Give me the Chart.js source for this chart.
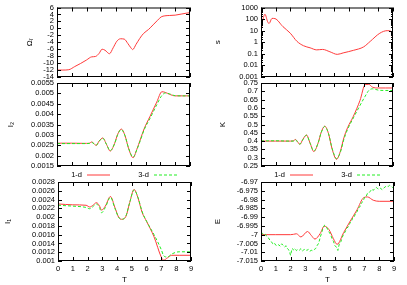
<!DOCTYPE html>
<html>
<head>
<meta charset="utf-8">
<script src="https://cdn.jsdelivr.net/npm/chart.js@4.4.1/dist/chart.umd.min.js"></script>
<style>
  html, body { margin: 0; padding: 0; background: #fff; }
  #wrap { position: relative; width: 407px; height: 285px; overflow: hidden; }
  canvas { position: absolute; }
</style>
</head>
<body>
<div id="wrap">
  <canvas id="c1" width="200" height="85"  style="left:0;top:0"></canvas>
  <canvas id="c2" width="207" height="85"  style="left:200px;top:0"></canvas>
  <canvas id="c3" width="200" height="104" style="left:0;top:72px"></canvas>
  <canvas id="c4" width="207" height="104" style="left:200px;top:72px"></canvas>
  <canvas id="c5" width="200" height="119" style="left:0;top:166px"></canvas>
  <canvas id="c6" width="207" height="119" style="left:200px;top:166px"></canvas>
</div>
<script>
// ---- data ----
const tTicks = [0, 1, 2, 3, 4, 5, 6, 7, 8, 9];

// Omega_r (1-d only)
const tOmega = [0, 0.4, 0.8, 1.2, 1.6, 2.0, 2.35, 2.6, 2.85, 3.05, 3.25, 3.55, 3.8, 4.05, 4.3, 4.55, 4.8, 5.0, 5.12, 5.35, 5.6, 5.85, 6.2, 6.5, 6.8, 7.05, 7.3, 7.6, 8.0, 8.4, 8.8, 9.0];
const omega1d = [-12, -12, -11.9, -11.0, -10.1, -9.1, -8.2, -8.1, -7.2, -6.0, -6.3, -7.3, -5.6, -3.7, -3.0, -3.1, -4.4, -5.6, -6.1, -4.6, -2.9, -1.5, -0.3, 1.0, 2.3, 3.3, 3.6, 3.7, 3.8, 4.1, 4.4, 4.5];
const omegaTicks = [-14, -12, -10, -8, -6, -4, -2, 0, 2, 4, 6];

// s (log scale, 1-d only)
const tS = [0, 0.04, 0.1, 0.27, 0.45, 0.55, 0.75, 0.95, 1.5, 2.0, 2.45, 2.9, 3.35, 3.8, 4.2, 4.7, 5.2, 5.6, 6.3, 7.0, 7.45, 8.1, 8.6, 8.85, 9.0];
const s1d = [800, 20, 60, 260, 60, 42, 115, 110, 22, 6, 1.2, 0.5, 0.33, 0.22, 0.24, 0.15, 0.09, 0.12, 0.2, 0.4, 1.2, 6, 10, 9, 1.7];
const sTicks = [0.001, 0.01, 0.1, 1, 10, 100, 1000];

// I_2 and K share one time grid
const tI = [0, 1, 2, 2.2, 2.35, 2.5, 2.65, 2.85, 3.1, 3.35, 3.6, 3.9, 4.1, 4.35, 4.6, 4.85, 5.15, 5.4, 5.65, 5.9, 6.3, 6.75, 7.1, 7.35, 7.6, 8.0, 8.5, 9];
const i2_1d = [0.0026, 0.0026, 0.00259, 0.0026, 0.00266, 0.00258, 0.00249, 0.0027, 0.00285, 0.00254, 0.00222, 0.00259, 0.00302, 0.00328, 0.00297, 0.00233, 0.0019, 0.0023, 0.0028, 0.0033, 0.0039, 0.00458, 0.00508, 0.00504, 0.00496, 0.00488, 0.00488, 0.00488];
const i2_3d = [0.00258, 0.00258, 0.00258, 0.00259, 0.00264, 0.00257, 0.0025, 0.00269, 0.00284, 0.00254, 0.00224, 0.00258, 0.003, 0.00326, 0.00296, 0.00235, 0.00193, 0.00228, 0.00275, 0.00325, 0.0038, 0.00445, 0.0049, 0.00502, 0.00498, 0.00489, 0.00488, 0.00488];
const i2Ticks = [0.0015, 0.002, 0.0025, 0.003, 0.0035, 0.004, 0.0045, 0.005, 0.0055];

const k1d = [0.4, 0.4, 0.4, 0.401, 0.41, 0.395, 0.38, 0.41, 0.437, 0.387, 0.337, 0.39, 0.452, 0.49, 0.446, 0.352, 0.29, 0.335, 0.42, 0.48, 0.55, 0.645, 0.74, 0.742, 0.725, 0.72, 0.72, 0.72];
const k3d = [0.401, 0.402, 0.4, 0.4, 0.408, 0.394, 0.382, 0.408, 0.435, 0.387, 0.34, 0.39, 0.45, 0.488, 0.446, 0.356, 0.295, 0.33, 0.41, 0.47, 0.54, 0.615, 0.67, 0.705, 0.715, 0.707, 0.705, 0.705];
const kTicks = [0.25, 0.3, 0.35, 0.4, 0.45, 0.5, 0.55, 0.6, 0.65, 0.7, 0.75];

// I_1
const tI1 = [0, 1, 1.9, 2.15, 2.4, 2.6, 2.8, 2.95, 3.2, 3.55, 3.85, 4.1, 4.3, 4.6, 4.85, 5.15, 5.4, 5.7, 6.0, 6.5, 7.0, 7.15, 7.4, 7.7, 8.2, 9];
const i1_1d = [0.0023, 0.00228, 0.00227, 0.00223, 0.00228, 0.00233, 0.00226, 0.00216, 0.00225, 0.00247, 0.00222, 0.002, 0.00195, 0.00202, 0.00233, 0.00263, 0.00245, 0.0021, 0.0019, 0.00155, 0.00108, 0.00102, 0.00107, 0.00113, 0.00113, 0.00113];
const i1_3d = [0.00227, 0.00225, 0.00222, 0.00219, 0.00225, 0.0023, 0.00222, 0.0021, 0.00222, 0.00245, 0.0022, 0.002, 0.00195, 0.00203, 0.00233, 0.00262, 0.00246, 0.00212, 0.0019, 0.0016, 0.00125, 0.00112, 0.00109, 0.00116, 0.00121, 0.00121];
const i1Ticks = [0.001, 0.0012, 0.0014, 0.0016, 0.0018, 0.002, 0.0022, 0.0024, 0.0026, 0.0028];

// E
const tE = [0, 1, 2, 2.2, 2.4, 2.7, 3.15, 3.4, 3.65, 4.0, 4.28, 4.6, 4.9, 5.15, 5.6, 6.0, 6.5, 6.95, 7.2, 7.6, 8.0, 9];
const e1d = [-7.0, -7.0, -7.0, -6.9998, -6.9995, -7.0013, -6.9982, -7.0004, -7.0025, -6.9994, -6.9952, -6.9971, -7.0023, -7.0055, -6.9987, -6.9928, -6.9858, -6.9789, -6.9785, -6.9804, -6.981, -6.981];
const tE3 = [0, 0.1, 0.2, 0.3, 0.4, 0.5, 0.6, 0.7, 0.8, 0.9, 1.0, 1.1, 1.2, 1.3, 1.4, 1.5, 1.6, 1.7, 1.8, 1.9, 2.0, 2.1, 2.2, 2.3, 2.4, 2.5, 2.6, 2.7, 2.8, 2.9, 3.0, 3.1, 3.2, 3.3, 3.4, 3.5, 3.6, 3.7, 3.8, 3.9, 4.0, 4.1, 4.2, 4.3, 4.4, 4.5, 4.6, 4.7, 4.8, 4.9, 5.0, 5.1, 5.2, 5.3, 5.4, 5.5, 5.6, 5.7, 5.8, 5.9, 6.0, 6.1, 6.2, 6.3, 6.4, 6.5, 6.6, 6.7, 6.8, 6.9, 7.0, 7.1, 7.2, 7.3, 7.4, 7.5, 7.6, 7.7, 7.8, 7.9, 8.0, 8.1, 8.2, 8.3, 8.4, 8.5, 8.6, 8.7, 8.8, 8.9, 9.0];
const e3d = [-6.9995, -6.9992, -7.0003, -6.9998, -7.0012, -7.0018, -7.0031, -7.004, -7.0052, -7.0047, -7.006, -7.0064, -7.0057, -7.0066, -7.0052, -7.0061, -7.007, -7.0063, -7.0081, -7.0089, -7.0118, -7.0079, -7.0086, -7.0078, -7.0091, -7.0083, -7.0088, -7.008, -7.0093, -7.0086, -7.0082, -7.009, -7.0084, -7.0095, -7.0089, -7.0092, -7.0085, -7.0079, -7.0062, -7.0049, -7.0018, -6.999, -6.9962, -6.9946, -6.9953, -6.9968, -6.9985, -6.9997, -7.0021, -7.0038, -7.0062, -7.0071, -7.009, -7.0052, -7.0041, -7.0015, -6.9995, -6.9984, -6.9962, -6.9957, -6.9936, -6.9929, -6.9906, -6.9902, -6.9877, -6.987, -6.9846, -6.9841, -6.9818, -6.9812, -6.9789, -6.9786, -6.9765, -6.9763, -6.9752, -6.9741, -6.9748, -6.9736, -6.9731, -6.9738, -6.9742, -6.9736, -6.9744, -6.9735, -6.9728, -6.9722, -6.9726, -6.9719, -6.9724, -6.9731, -6.9738];
const eTicks = [-7.015, -7.01, -7.005, -7, -6.995, -6.99, -6.985, -6.98, -6.975, -6.97];

// ---- drawing ----
Chart.defaults.font.family = '"Liberation Sans", Arial, sans-serif';
Chart.defaults.font.size = 7.5;
Chart.defaults.color = '#000';

const RED = '#ff3a3a';
const GREEN = '#22ee22';

function series(label, xs, ys, smooth) {
  const green = label === '3-d';
  return {
    label: label,
    data: xs.map((x, i) => ({x: x, y: ys[i]})),
    borderColor: green ? GREEN : RED,
    borderWidth: 1,
    borderDash: green ? [3, 2] : [],
    pointRadius: 0,
    cubicInterpolationMode: smooth === false ? 'default' : 'monotone',
    tension: 0,
    order: green ? 0 : 1
  };
}

// gnuplot style frame with inward tics on all four sides
const frameTicks = {
  id: 'frameTicks',
  afterDatasetsDraw(chart) {
    const {ctx, chartArea: a, scales: {x, y}} = chart;
    ctx.save();
    ctx.strokeStyle = '#000';
    ctx.lineWidth = 1;
    ctx.beginPath();
    x.ticks.forEach(t => {
      const px = Math.round(x.getPixelForValue(t.value)) + 0.5;
      ctx.moveTo(px, a.bottom); ctx.lineTo(px, a.bottom - 4);
      ctx.moveTo(px, a.top); ctx.lineTo(px, a.top + 4);
    });
    y.ticks.forEach(t => {
      const py = Math.round(y.getPixelForValue(t.value)) + 0.5;
      ctx.moveTo(a.left, py); ctx.lineTo(a.left + 4, py);
      ctx.moveTo(a.right, py); ctx.lineTo(a.right - 4, py);
    });
    if (y.type === 'logarithmic') {
      for (let e = -3; e < 3; e++) {
        for (let m = 2; m < 10; m++) {
          const py = Math.round(y.getPixelForValue(m * Math.pow(10, e))) + 0.5;
          ctx.moveTo(a.left, py); ctx.lineTo(a.left + 2, py);
          ctx.moveTo(a.right, py); ctx.lineTo(a.right - 2, py);
        }
      }
    }
    ctx.stroke();
    ctx.strokeRect(a.left + 0.5, a.top + 0.5, a.width - 1, a.height - 1);
    ctx.restore();
  }
};

// key row above the bottom panels: text first, then the line sample
const keyRow = {
  id: 'keyRow',
  afterDraw(chart, args, opts) {
    if (!opts.show) return;
    const {ctx, chartArea: a} = chart;
    const y = a.top - 7.5;
    ctx.save();
    ctx.font = '7.5px "Liberation Sans", Arial, sans-serif';
    ctx.textAlign = 'right';
    ctx.textBaseline = 'middle';
    chart.data.datasets.forEach((ds, i) => {
      const x0 = a.left + i * 67;
      ctx.fillStyle = '#000';
      ctx.fillText(ds.label, x0 + 24, y);
      ctx.strokeStyle = ds.borderColor;
      ctx.lineWidth = 1;
      ctx.setLineDash(ds.borderDash);
      ctx.beginPath();
      ctx.moveTo(x0 + 29, y + 0.5);
      ctx.lineTo(x0 + 52, y + 0.5);
      ctx.stroke();
    });
    ctx.restore();
  }
};

Chart.register(frameTicks, keyRow);

const fmt = v => String(Number(v.toFixed(6)));

function panel(id, box, cfg) {
  return new Chart(document.getElementById(id), {
    type: 'line',
    data: {datasets: cfg.datasets},
    options: {
      responsive: false,
      animation: false,
      events: [],
      layout: {padding: {left: 0, top: box.top, right: box.right, bottom: 0}},
      plugins: {
        legend: {display: false},
        tooltip: {enabled: false},
        keyRow: {show: !!cfg.key}
      },
      scales: {
        x: {
          type: 'linear', min: 0, max: 9,
          afterBuildTicks: s => { s.ticks = tTicks.map(v => ({value: v})); },
          afterFit: s => { s.height = box.xh; },
          grid: {display: false, drawTicks: false},
          border: {display: false},
          ticks: {display: !!cfg.showT, padding: 3, autoSkip: false, maxRotation: 0},
          title: {display: !!cfg.showT, text: 'T', padding: 0, font: {size: 8}}
        },
        y: {
          type: cfg.log ? 'logarithmic' : 'linear',
          min: cfg.ticks[0],
          max: cfg.ticks[cfg.ticks.length - 1],
          afterBuildTicks: s => { s.ticks = cfg.ticks.map(v => ({value: v})); },
          afterFit: s => { s.width = box.yw; },
          grid: {display: false, drawTicks: false},
          border: {display: false},
          ticks: {padding: 3, autoSkip: false, callback: fmt},
          title: {display: true, text: cfg.title, padding: {top: box.tp, bottom: 0}, font: {size: 8}}
        }
      }
    }
  });
}

panel('c1', {yw: 57, top: 7, right: 10, xh: 8, tp: 25}, {
  title: 'Ωᵣ', ticks: omegaTicks,
  datasets: [series('1-d', tOmega, omega1d)]
});
panel('c2', {yw: 61, top: 7, right: 14, xh: 8, tp: 13}, {
  title: 's', ticks: sTicks, log: true,
  datasets: [series('1-d', tS, s1d)]
});
panel('c3', {yw: 57, top: 11, right: 10, xh: 10, tp: 6}, {
  title: 'I₂', ticks: i2Ticks,
  datasets: [series('1-d', tI, i2_1d), series('3-d', tI, i2_3d)]
});
panel('c4', {yw: 61, top: 11, right: 14, xh: 10, tp: 18}, {
  title: 'K', ticks: kTicks,
  datasets: [series('1-d', tI, k1d), series('3-d', tI, k3d)]
});
panel('c5', {yw: 58, top: 16, right: 9, xh: 24, tp: 3}, {
  title: 'I₁', ticks: i1Ticks, showT: true, key: true,
  datasets: [series('1-d', tI1, i1_1d), series('3-d', tI1, i1_3d)]
});
panel('c6', {yw: 61, top: 16, right: 13, xh: 24, tp: 13}, {
  title: 'E', ticks: eTicks, showT: true, key: true,
  datasets: [series('1-d', tE, e1d), series('3-d', tE3, e3d, false)]
});
</script>
</body>
</html>
